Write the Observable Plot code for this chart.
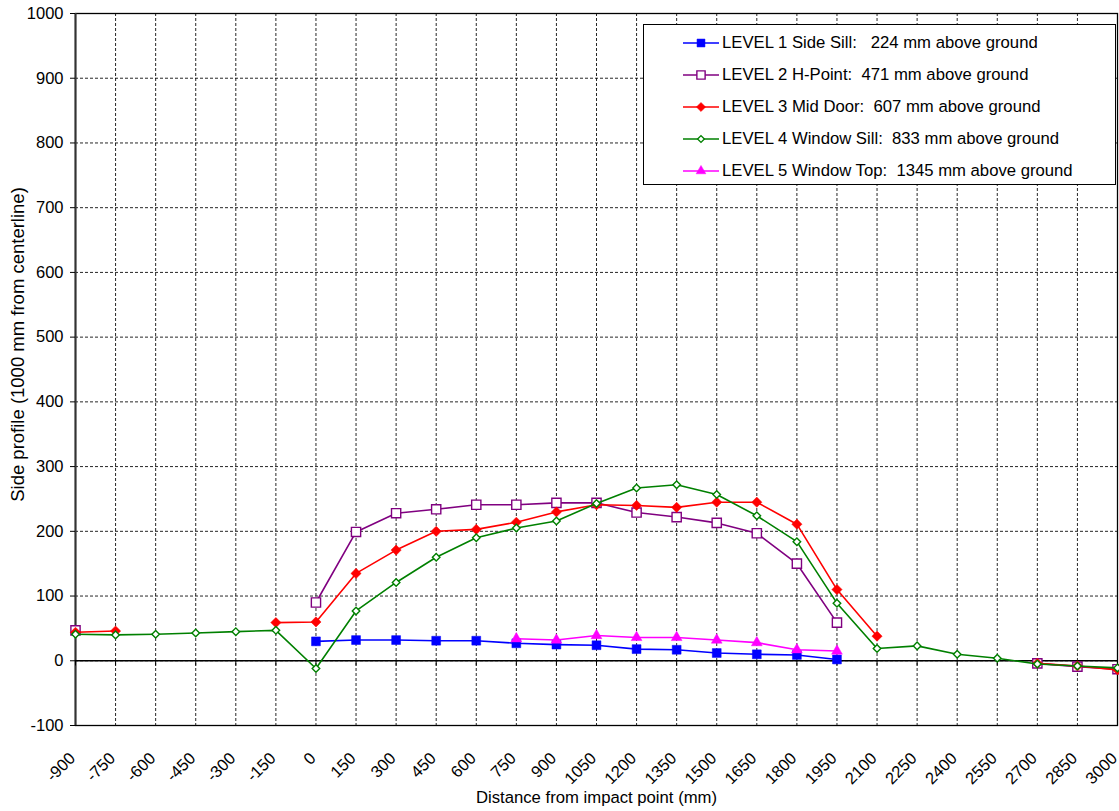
<!DOCTYPE html>
<html><head><meta charset="utf-8">
<script src="https://cdn.jsdelivr.net/npm/d3@7"></script>
<script src="https://cdn.jsdelivr.net/npm/@observablehq/plot@0.6"></script>
<style>
body{margin:0;background:#fff;font-family:"Liberation Sans",Arial,sans-serif;}
#wrap{position:relative;width:1119px;height:811px;}
#legend{position:absolute;left:643px;top:24px;width:471px;height:159px;border:1px solid #000;background:#fff;}
.row{position:absolute;left:0;height:32px;display:flex;align-items:center;}
.row svg{margin-left:39px;margin-right:3px;}
.row span{white-space:pre;font-size:16.7px;color:#000;}
</style></head><body><div id="wrap"></div>
<script>
const xValues = [-900,-750,-600,-450,-300,-150,0,150,300,450,600,750,900,1050,1200,1350,1500,1650,1800,1950,2100,2250,2400,2550,2700,2850,3000];
const xTicks = xValues;
const yTicks = [-100,0,100,200,300,400,500,600,700,800,900,1000];

const seriesNames = [
  "LEVEL 1 Side Sill:   224 mm above ground",
  "LEVEL 2 H-Point:  471 mm above ground",
  "LEVEL 3 Mid Door:  607 mm above ground",
  "LEVEL 4 Window Sill:  833 mm above ground",
  "LEVEL 5 Window Top:  1345 mm above ground"
];
const level1 = [null,null,null,null,null,null,30,32,32,31,31,27,25,24,18,17,12,10,9,2,null,null,null,null,null,null,null];
const level2 = [47,null,null,null,null,null,90,199,228,234,241,241,244,244,229,222,213,197,150,59,null,null,null,null,-4,-9,-13];
const level3 = [44,46,null,null,null,59,60,135,171,200,203,214,230,241,240,237,245,245,211,110,38,null,null,null,-4,-8,-14];
const level4 = [41,40,41,43,45,47,-12,77,121,160,190,205,216,243,267,272,257,224,184,89,19,23,10,4,-5,-8,-11];
const level5 = [null,null,null,null,null,null,null,null,null,null,null,34,32,39,36,36,32,28,17,15,null,null,null,null,null,null,null];
const seriesValues = [level1, level2, level3, level4, level5];

const colors = ["#0000FF","#800080","#FF0000","#008000","#FF00FF"];
const symbols = ["square","square","diamond2","diamond2","triangle"];
const symbolFill = ["#0000FF","#FFFFFF","#FF0000","#FFFFFF","#FF00FF"];
const symbolR = [5,5.2,4.6,3.4,4];

const font = '"Liberation Sans", Arial, sans-serif';
const fmt = d => String(d);

const marks = [
  Plot.gridY(yTicks, {stroke:"#000", strokeOpacity:0.85, strokeDasharray:"3,2"}),
  Plot.gridX(xTicks, {stroke:"#000", strokeOpacity:0.85, strokeDasharray:"3,2"}),
  Plot.frame({stroke:"#000", strokeWidth:1.3}),
  Plot.ruleX([-900], {stroke:"#333", strokeWidth:2}),
  Plot.ruleY([0], {stroke:"#000", strokeWidth:1.3}),
  Plot.ruleX(xTicks, {x: d => d, y1: 0, y2: -8, stroke:"#000"}),
  Plot.axisY({ticks: yTicks, tickSize: 5, tickPadding: 7, fontSize: 16.5, tickFormat: fmt, label: null}),
  Plot.axisX({ticks: xTicks, tickSize: 0, tickPadding: 30, dx: -3, tickRotate: -45, fontSize: 16.5, tickFormat: fmt, label: null}),
  Plot.text(["Distance from impact point (mm)"], {frameAnchor:"bottom", dy: 72, fontSize: 16.7, lineAnchor:"middle", textAnchor:"middle"}),
  Plot.text(["Side profile (1000 mm from centerline)"], {frameAnchor:"left", dx: -57, dy: -25, rotate: -90, fontSize: 18.5, lineAnchor:"middle", textAnchor:"middle"})
];

seriesValues.forEach((vals, i) => {
  const data = xValues.map((x, j) => ({x, y: vals[j]}));
  const pts = data.filter(d => d.y != null);
  marks.push(Plot.line(data, {x:"x", y:"y", stroke: colors[i], strokeWidth: 1.6}));
  marks.push(Plot.dot(pts, {x:"x", y:"y", symbol: symbols[i], r: symbolR[i], fill: symbolFill[i], stroke: colors[i], strokeWidth: (symbolFill[i] === "#FFFFFF") ? 1.4 : 0.5}));
});

const chart = Plot.plot({
  width: 1119, height: 811,
  marginLeft: 75, marginRight: 2, marginTop: 13, marginBottom: 86,
  style: {fontFamily: font, fontSize: "16px", background: "#fff", color: "#000"},
  x: {domain: [-900, 3000]},
  y: {domain: [-100, 1000]},
  marks
});
const wrap = document.getElementById("wrap");
wrap.appendChild(chart);

const legend = document.createElement("div");
legend.id = "legend";
seriesNames.forEach((name, i) => {
  const row = document.createElement("div");
  row.className = "row";
  row.style.top = (2 + i * 32) + "px";
  const svg = d3.create("svg").attr("width", 36).attr("height", 16);
  svg.append("line").attr("x1",0).attr("x2",36).attr("y1",8).attr("y2",8).attr("stroke",colors[i]).attr("stroke-width",1.6);
  const symMap = {square: d3.symbolSquare, diamond2: d3.symbolDiamond2, triangle: d3.symbolTriangle};
  svg.append("path").attr("transform","translate(18,8)")
    .attr("d", d3.symbol(symMap[symbols[i]], Math.PI * symbolR[i] * symbolR[i] * 0.8)())
    .attr("fill", symbolFill[i]).attr("stroke", colors[i]).attr("stroke-width", symbolFill[i] === "#FFFFFF" ? 1.4 : 0.5);
  row.appendChild(svg.node());
  const span = document.createElement("span");
  span.textContent = name;
  row.appendChild(span);
  legend.appendChild(row);
});
wrap.appendChild(legend);
</script>
</body></html>
